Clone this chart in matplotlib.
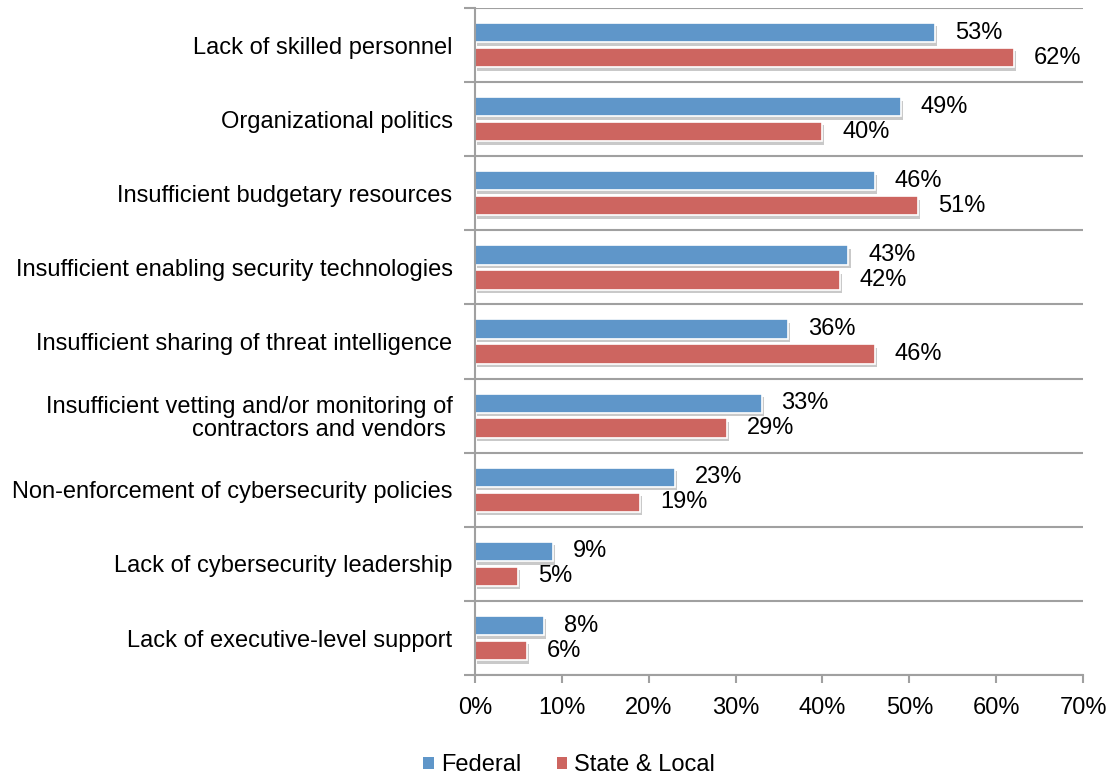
import numpy as np
import matplotlib
matplotlib.use("Agg")
import matplotlib.pyplot as plt
import matplotlib.patheffects as pe
from matplotlib.patches import Patch
from matplotlib.ticker import FixedLocator, PercentFormatter

plt.rcParams['font.family'] = ['Liberation Sans', 'DejaVu Sans']

categories = [
    "Lack of skilled personnel",
    "Organizational politics",
    "Insufficient budgetary resources",
    "Insufficient enabling security technologies",
    "Insufficient sharing of threat intelligence",
    "Insufficient vetting and/or monitoring of\ncontractors and vendors ",
    "Non-enforcement of cybersecurity policies",
    "Lack of cybersecurity leadership",
    "Lack of executive-level support",
]
federal = [53, 49, 46, 43, 36, 33, 23, 9, 8]
state_local = [62, 40, 51, 42, 46, 29, 19, 5, 6]
series_names = ["Federal", "State & Local"]

blue = "#5f96c9"
red = "#cd6560"
grey = "#a0a0a0"
fs = 17

fig = plt.figure(figsize=(11.12, 7.76), dpi=100)
ax = fig.add_axes([0.427, 0.130, 0.547, 0.8597])

y = np.arange(len(categories))
h = 0.26
off = 0.168
shadow = [pe.SimplePatchShadow(offset=(1.5, -2.5), shadow_rgbFace="#888888", alpha=0.45), pe.Normal()]

b1 = ax.barh(y - off, federal, height=h, color=blue, edgecolor="white", linewidth=1.2,
             path_effects=shadow)
b2 = ax.barh(y + off, state_local, height=h, color=red, edgecolor="white", linewidth=1.2,
             path_effects=shadow)

# value labels just right of each bar
for bars, vals in ((b1, federal), (b2, state_local)):
    for bar, v in zip(bars, vals):
        ax.annotate(f"{v}%", (v, bar.get_y() + bar.get_height() / 2),
                    xytext=(20, 0), textcoords="offset pixels",
                    ha="left", va="center", fontsize=fs)

ax.set_xlim(0, 70)
ax.set_ylim(len(categories) - 0.5, -0.5)
ax.set_xticks(np.arange(0, 71, 10))
ax.xaxis.set_major_formatter(PercentFormatter(decimals=0))
ax.tick_params(axis="x", labelsize=fs, length=6, color=grey, width=1.5, pad=10)

ax.set_yticks(y)
ax.set_yticklabels(categories, fontsize=fs, ha="right", linespacing=1.05)
ax.tick_params(axis="y", which="major", length=0, pad=16)
ax.yaxis.set_minor_locator(FixedLocator(np.arange(-0.5, len(categories), 1)))
ax.tick_params(axis="y", which="minor", length=8, color=grey, width=1.5)
ax.grid(axis="y", which="minor", color=grey, linewidth=1.5)
ax.set_axisbelow(True)

for s in ("top", "right"):
    ax.spines[s].set_visible(False)
for s in ("left", "bottom"):
    ax.spines[s].set_color(grey)
    ax.spines[s].set_linewidth(1.5)

handles = [Patch(facecolor=blue), Patch(facecolor=red)]
fig.legend(handles=handles, labels=series_names, loc="lower center",
           bbox_to_anchor=(0.512, -0.028), ncol=2, frameon=False, fontsize=fs,
           handlelength=0.45, handleheight=0.45, handletextpad=0.3, columnspacing=1.5)

fig.savefig("out.png", dpi=100)
